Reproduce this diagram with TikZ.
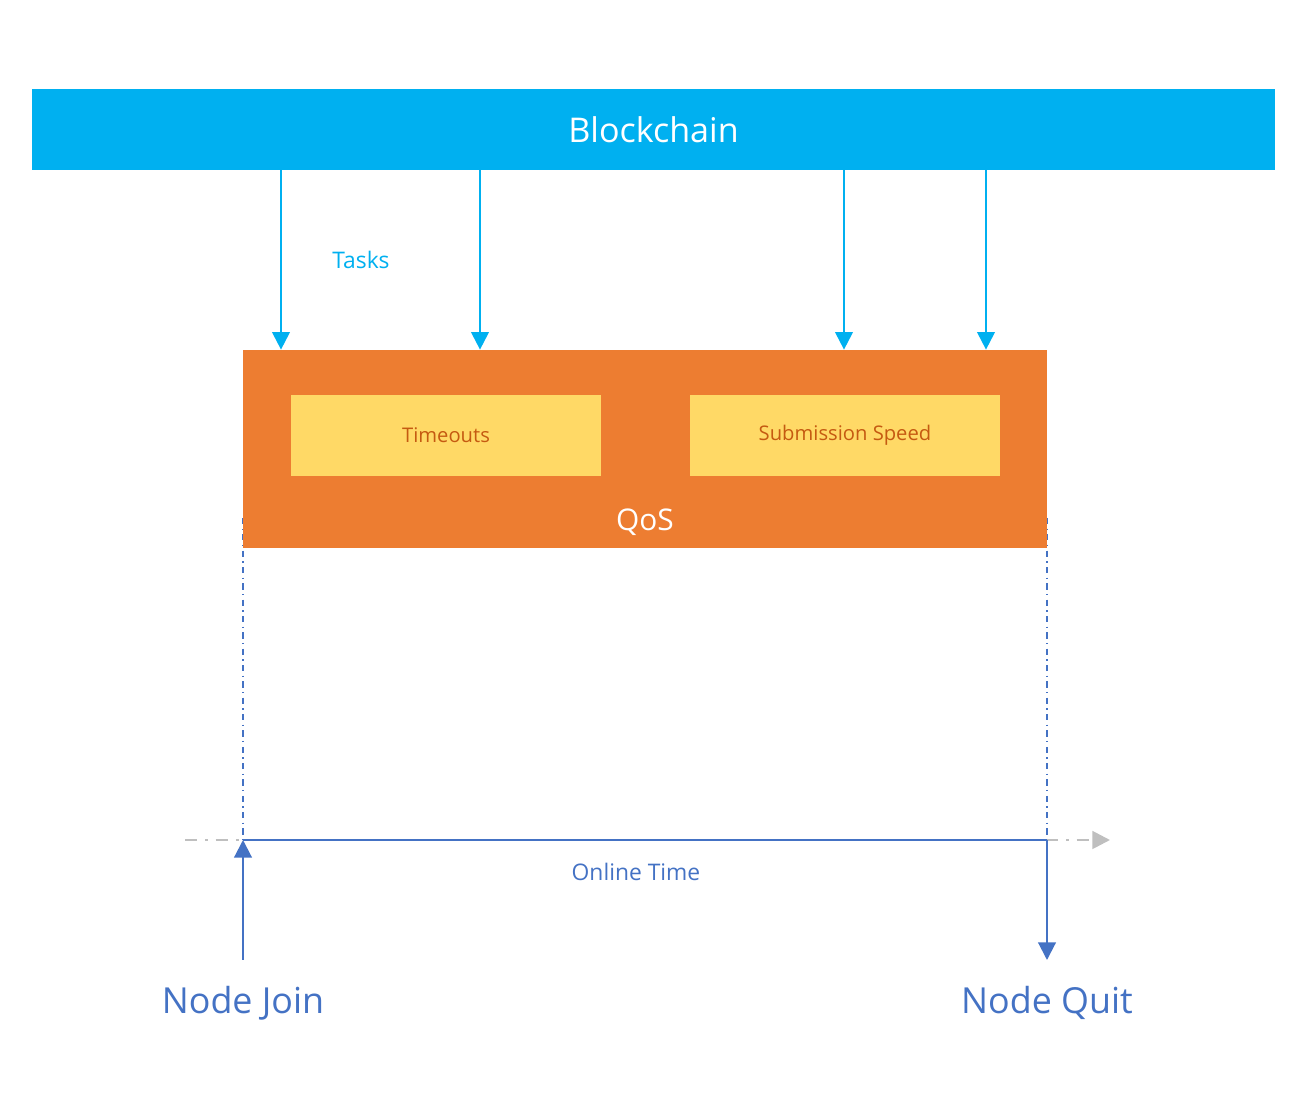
\documentclass[tikz,border=0pt]{standalone}
\usepackage{fontspec}
\setmainfont{Open Sans}
\usetikzlibrary{arrows.meta}

\definecolor{chain}{HTML}{00B0F0}
\definecolor{qosorange}{HTML}{ED7D31}
\definecolor{metric}{HTML}{FFD966}
\definecolor{metrictext}{HTML}{C55A11}
\definecolor{timeblue}{HTML}{4472C4}
\definecolor{timegray}{HTML}{BFBFBF}

\tikzset{
  task/.style={draw=chain, line width=1.2pt, arrows={-{Triangle[width=10pt,length=10pt]}}},
  metricbox/.style={fill=metric, minimum width=310*0.02cm, minimum height=81*0.02cm, inner sep=0pt,
    text=metrictext, font=\fontsize{11.5}{13}\selectfont},
  lifeline/.style={draw=timeblue, line width=0.7pt, dash pattern=on 3.5pt off 2.5pt on 0.8pt off 2.5pt},
}

\begin{document}
\begin{tikzpicture}[x=0.02cm, y=-0.02cm]
	\useasboundingbox (0,0) rectangle (1306,1097);
	% chain and qos boxes
	\node [fill=chain, minimum width=1243*0.02cm, minimum height=81*0.02cm, inner sep=0pt, text=white,
	       font=\fontsize{19.4}{22}\selectfont] (chain) at (653.5,129.5) {Blockchain};
	\draw [lifeline] (243,518) -- (243,840);
	\draw [lifeline] (1047,518) -- (1047,840);
	\node [fill=qosorange, minimum width=804*0.02cm, minimum height=198*0.02cm, inner sep=0pt] (qos) at (645,449) {};
	\node [metricbox] (timeouts) at (446,435.5) {Timeouts};
	\node [metricbox] (speed) at (845,435.5) {Submission Speed};
	\node [text=white, font=\fontsize{17}{20}\selectfont] (qoslabel) at (645,522) {QoS};
	% tasks
	\foreach \x in {281,480,844,986}
		\draw [task] (chain.south -| \x,0) -- (qos.north -| \x,0);
	\node [text=chain, font=\fontsize{13}{15}\selectfont] (tasks) at (361,260) {Tasks};
	% time line
	\coordinate (past) at (185,840);
	\coordinate (future) at (1110,840);
	\coordinate (join) at (243,840);
	\coordinate (quit) at (1047,840);
	\draw [draw=timegray, line width=1.6pt, dash pattern=on 7pt off 4.5pt on 1.5pt off 4.5pt,
	       arrows={-{Triangle[width=10pt,length=10pt,fill=timegray]}}] (past) -- (future);
	\draw [draw=timeblue, line width=1.7pt] (join) -- (quit);
	\node [text=timeblue, font=\fontsize{13}{15}\selectfont] (online) at (636,872) {Online Time};
	\node [text=timeblue, font=\fontsize{20.4}{23}\selectfont] (joinlabel) at (243,1003) {Node Join};
	\node [text=timeblue, font=\fontsize{20.4}{23}\selectfont] (quitlabel) at (1047,1003) {Node Quit};
	\draw [draw=timeblue, line width=1.2pt, arrows={-{Triangle[width=10pt,length=10pt]}}] (243,960) -- (join);
	\draw [draw=timeblue, line width=1.2pt, arrows={-{Triangle[width=10pt,length=10pt]}}] (quit) -- (1047,960);
\end{tikzpicture}
\end{document}
